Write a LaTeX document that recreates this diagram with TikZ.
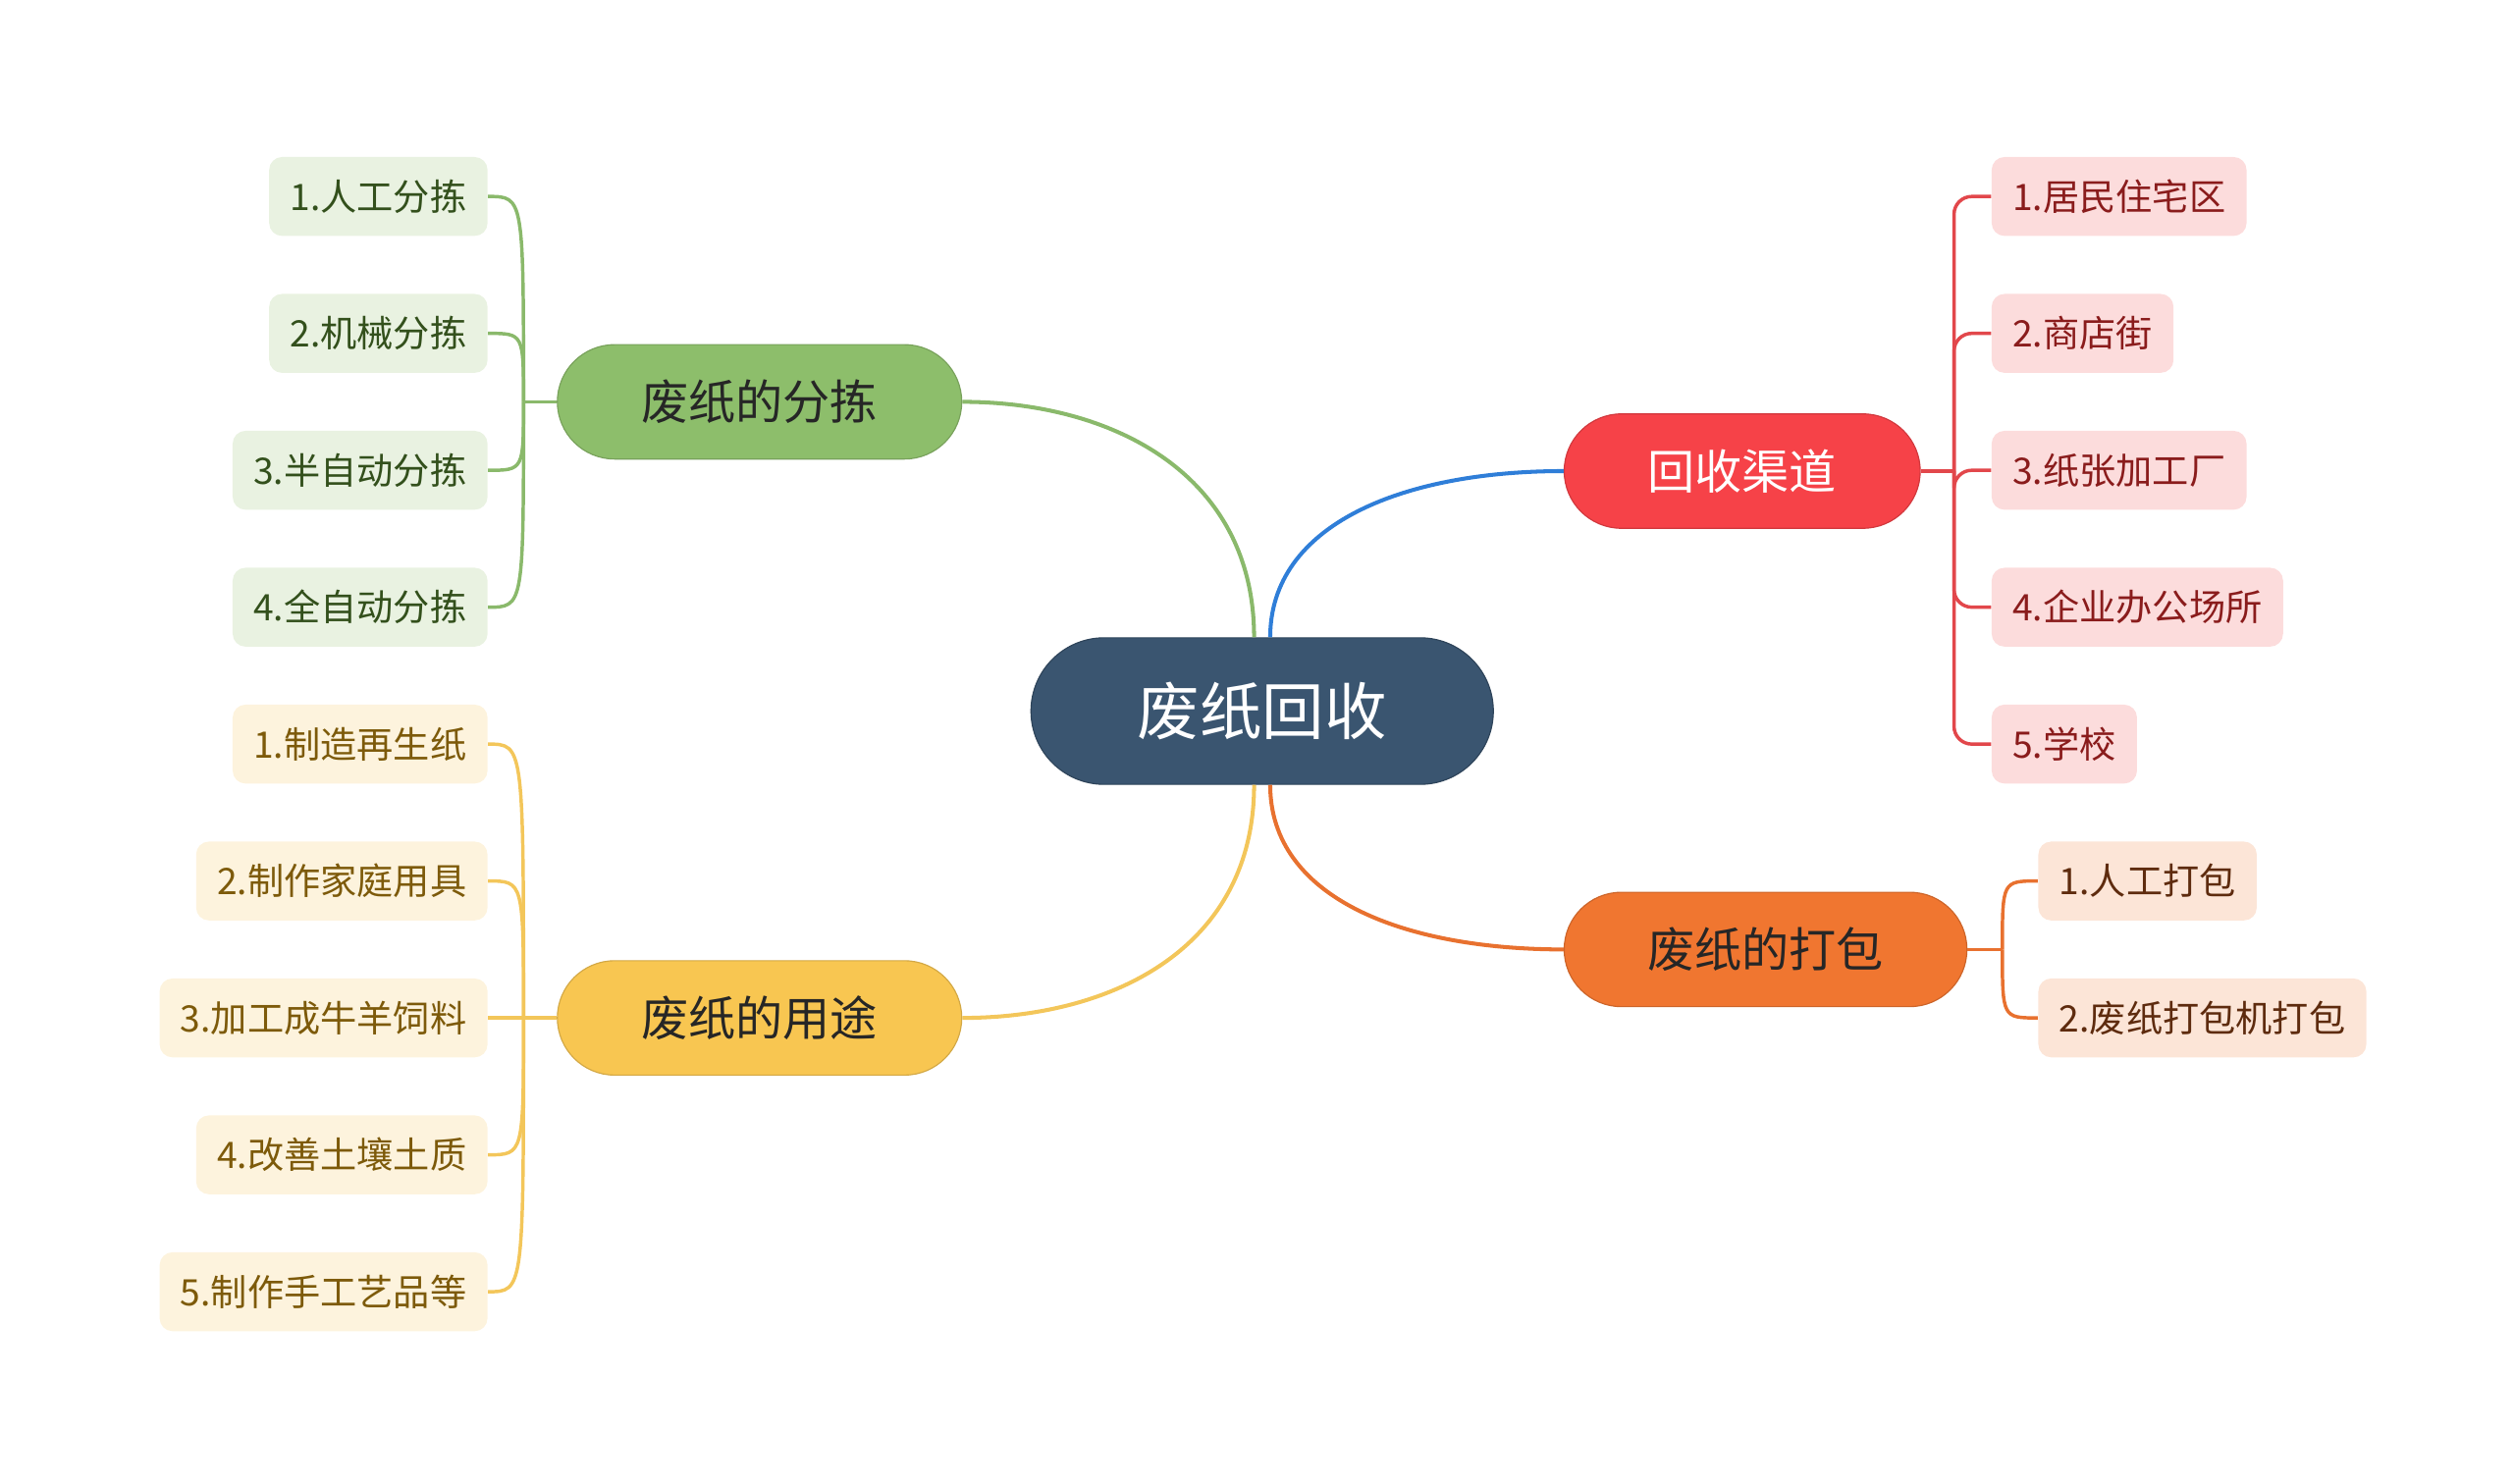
\documentclass[tikz,border=0pt]{standalone}
\usepackage{fontspec}
\setmainfont{Noto Sans CJK SC}
\usepackage{tikz}

\definecolor{rootfill}{HTML}{3A5570}
\definecolor{blueline}{HTML}{2F7ED8}
\definecolor{sortmain}{HTML}{8DBE6B}
\definecolor{sortleaf}{HTML}{E9F2E1}
\definecolor{sortline}{HTML}{8AB96B}
\definecolor{sorttext}{HTML}{33501C}
\definecolor{chanmain}{HTML}{F64248}
\definecolor{chanleaf}{HTML}{FCDCDC}
\definecolor{chanline}{HTML}{E2474B}
\definecolor{chantext}{HTML}{8A1C1C}
\definecolor{usemain}{HTML}{F8C651}
\definecolor{useleaf}{HTML}{FDF3DD}
\definecolor{useline}{HTML}{F3C65A}
\definecolor{usetext}{HTML}{7D5A0A}
\definecolor{packmain}{HTML}{F07630}
\definecolor{packleaf}{HTML}{FCE5D7}
\definecolor{packline}{HTML}{E8712F}
\definecolor{packtext}{HTML}{5E2B0E}

\begin{document}
\begin{tikzpicture}[
  root/.style={fill=rootfill, draw=rootfill!80!black, text=white, rounded corners=0.91cm,
    minimum width=5.74cm, minimum height=1.82cm, font=\fontsize{22}{26}\selectfont},
  topic/.style={rounded corners=0.71cm, minimum height=1.42cm, text=black!85,
    font=\fontsize{16.7}{20}\selectfont},
  leaf/.style={rounded corners=0.16cm, minimum height=0.98cm, inner xsep=0.26cm,
    font=\fontsize{12.9}{15}\selectfont},
  link/.style={line width=1.4pt},
  twig/.style={line width=1.2pt},
]
  \useasboundingbox (0,0) rectangle (31.2,18.42);

  % centre and main topics
  \node[root] (root) at (15.67,9.59) {废纸回收};
  \node[topic, fill=sortmain, draw=sortmain!85!black, minimum width=5.02cm] (sort) at (9.43,13.43) {废纸的分拣};
  \node[topic, fill=chanmain, draw=chanmain!85!black, text=white, minimum width=4.42cm] (chan) at (21.63,12.57) {回收渠道};
  \node[topic, fill=usemain, draw=usemain!85!black, minimum width=5.02cm] (use) at (9.43,5.78) {废纸的用途};
  \node[topic, fill=packmain, draw=packmain!85!black, minimum width=5.0cm] (pack) at (21.92,6.63) {废纸的打包};

  \draw[link, sortline] ([xshift=-0.1cm]root.north) .. controls +(0,2.0) and +(1.9,0) .. (sort.east);
  \draw[link, blueline] ([xshift=0.1cm]root.north) .. controls +(0,1.4) and +(-2.0,0) .. (chan.west);
  \draw[link, useline] ([xshift=-0.1cm]root.south) .. controls +(0,-2.0) and +(1.9,0) .. (use.east);
  \draw[link, packline] ([xshift=0.1cm]root.south) .. controls +(0,-1.4) and +(-2.0,0) .. (pack.west);

  % sorting
  \node[leaf, fill=sortleaf, text=sorttext, anchor=east] (s1) at (6.06,15.98) {1.人工分拣};
  \node[leaf, fill=sortleaf, text=sorttext, anchor=east] (s2) at (6.06,14.28) {2.机械分拣};
  \node[leaf, fill=sortleaf, text=sorttext, anchor=east] (s3) at (6.06,12.58) {3.半自动分拣};
  \node[leaf, fill=sortleaf, text=sorttext, anchor=east] (s4) at (6.06,10.88) {4.全自动分拣};
  \coordinate (sj) at (6.5,13.43);
  \draw[twig, sortline] (sort.west) -- (sj);
  \foreach \i in {1,...,4}
    \draw[twig, sortline] (sj) .. controls (sj |- s\i.east) .. (s\i.east);

  % channels
  \node[leaf, fill=chanleaf, text=chantext, anchor=west] (c1) at (24.72,15.98) {1.居民住宅区};
  \node[leaf, fill=chanleaf, text=chantext, anchor=west] (c2) at (24.72,14.28) {2.商店街};
  \node[leaf, fill=chanleaf, text=chantext, anchor=west] (c3) at (24.72,12.58) {3.纸张加工厂};
  \node[leaf, fill=chanleaf, text=chantext, anchor=west] (c4) at (24.72,10.88) {4.企业办公场所};
  \node[leaf, fill=chanleaf, text=chantext, anchor=west] (c5) at (24.72,9.18) {5.学校};
  \coordinate (cj) at (24.26,12.57);
  \draw[twig, chanline] (chan.east) -- (cj);
  \foreach \i in {1,...,5}
    \draw[twig, chanline, rounded corners=0.22cm] (cj) -- (cj |- c\i.west) -- (c\i.west);

  % uses
  \node[leaf, fill=useleaf, text=usetext, anchor=east] (u1) at (6.06,9.18) {1.制造再生纸};
  \node[leaf, fill=useleaf, text=usetext, anchor=east] (u2) at (6.06,7.48) {2.制作家庭用具};
  \node[leaf, fill=useleaf, text=usetext, anchor=east] (u3) at (6.06,5.78) {3.加工成牛羊饲料};
  \node[leaf, fill=useleaf, text=usetext, anchor=east] (u4) at (6.06,4.08) {4.改善土壤土质};
  \node[leaf, fill=useleaf, text=usetext, anchor=east] (u5) at (6.06,2.38) {5.制作手工艺品等};
  \coordinate (uj) at (6.5,5.78);
  \draw[twig, useline] (use.west) -- (uj);
  \foreach \i in {1,...,5}
    \draw[twig, useline] (uj) .. controls (uj |- u\i.east) .. (u\i.east);

  % packing
  \node[leaf, fill=packleaf, text=packtext, anchor=west] (p1) at (25.30,7.48) {1.人工打包};
  \node[leaf, fill=packleaf, text=packtext, anchor=west] (p2) at (25.30,5.78) {2.废纸打包机打包};
  \coordinate (pj) at (24.86,6.63);
  \draw[twig, packline] (pack.east) -- (pj);
  \foreach \i in {1,2}
    \draw[twig, packline] (pj) .. controls (pj |- p\i.west) .. (p\i.west);
\end{tikzpicture}
\end{document}
